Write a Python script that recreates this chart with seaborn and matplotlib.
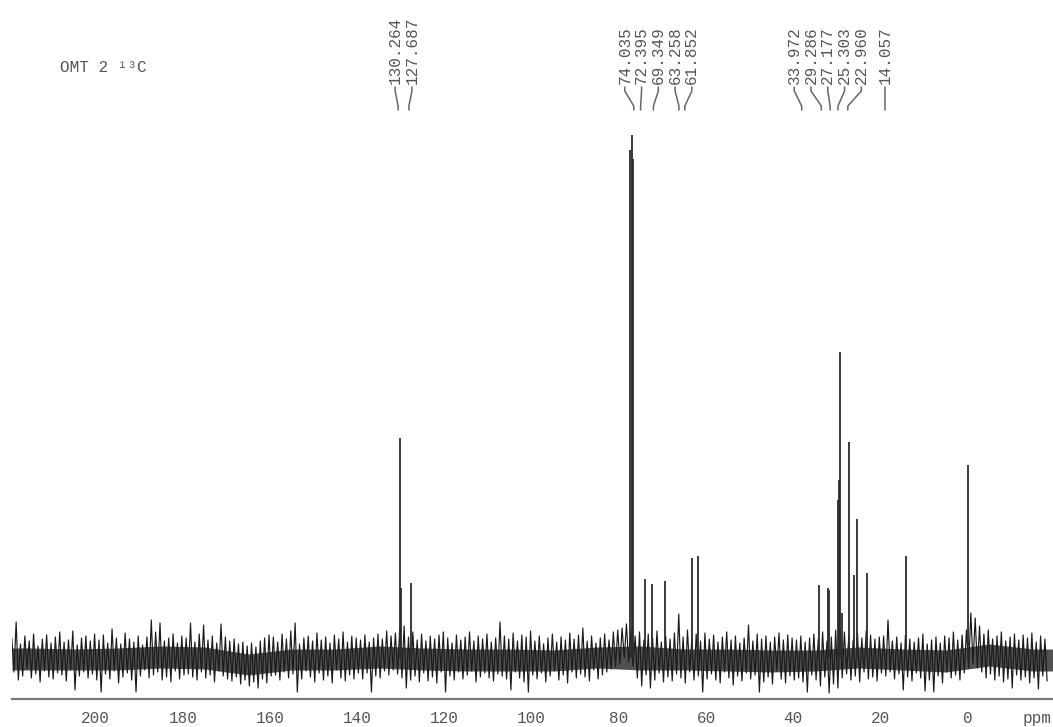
import numpy as np
import pandas as pd
import matplotlib
matplotlib.use("Agg")
import matplotlib.pyplot as plt
from matplotlib.ticker import MultipleLocator
import seaborn as sns

# ---- resolved lines: chemical shift (ppm) and intensity ----
peak_ppm = [130.264, 129.95, 127.687, 77.32, 77.00, 76.68, 74.035, 72.395, 69.349,
            63.258, 61.852, 33.972, 31.95, 31.70, 29.72, 29.52, 29.286, 28.80,
            27.177, 26.00, 25.303, 22.960, 14.057, 0.000]
peak_height = [220, 70, 75, 508, 523, 499, 79, 74, 77,
               100, 102, 73, 70, 68, 158, 178, 306, 45,
               216, 83, 139, 85, 102, 193]

# shifts printed above the spectrum
labelled_ppm = [130.264, 127.687, 74.035, 72.395, 69.349, 63.258, 61.852,
                33.972, 29.286, 27.177, 25.303, 22.960, 14.057]

# ---- baseline noise: upper / lower swing in 1 ppm steps (219 ... -18 ppm) ----
noise_hi = [
    20, 36, 14, 22, 17, 24, 12, 19, 23, 15, 21, 26, 16, 18, 27, 13, 20, 22, 17, 24,
    18, 23, 15, 29, 20, 14, 25, 19, 16, 22, 13, 21, 38, 26, 35, 17, 20, 24, 15, 22,
    20, 35, 16, 24, 33, 18, 22, 15, 34, 21, 17, 19, 14, 16, 12, 15, 11, 17, 20, 23,
    21, 16, 24, 19, 27, 35, 14, 20, 22, 17, 25, 18, 21, 15, 23, 19, 26, 16, 22, 20,
    18, 23, 16, 20, 24, 19, 27, 22, 25, 30, 32, 21, 26, 18, 24, 17, 22, 19, 23, 26,
    20, 15, 23, 18, 21, 26, 17, 22, 19, 24, 16, 20, 36, 22, 19, 25, 17, 23, 21, 27,
    17, 22, 14, 20, 24, 16, 21, 18, 25, 19, 23, 30, 17, 22, 15, 20, 24, 18, 26, 28,
    30, 34, 28, 22, 26, 18, 24, 20, 27, 16, 22, 19, 25, 44, 21, 28, 19, 24, 17, 25,
    19, 23, 16, 21, 26, 18, 22, 15, 20, 33, 17, 24, 19, 22, 16, 21, 25, 18, 23, 20,
    18, 22, 16, 20, 24, 19, 26, 17, 21, 28, 30, 26, 22, 18, 25, 20, 27, 23, 19, 21,
    22, 38, 17, 21, 15, 23, 19, 16, 20, 24, 14, 18, 21, 15, 22, 20, 26, 18, 23, 28,
    45, 40, 32, 24, 28, 19, 22, 26, 17, 21, 24, 18, 23, 20, 25, 16, 22, 19]
noise_lo = [
    -14, -22, -18, -11, -20, -16, -24, -13, -19, -21, -15, -17, -23, -12, -32, -18, -14, -20, -16, -22,
    -34, -16, -21, -13, -25, -19, -15, -22, -34, -18, -12, -20, -17, -14, -22, -19, -24, -13, -21, -17,
    -16, -19, -22, -14, -20, -17, -24, -13, -18, -21, -23, -19, -26, -22, -28, -24, -30, -21, -25, -18,
    -17, -22, -14, -20, -16, -34, -21, -13, -19, -24, -15, -22, -18, -25, -12, -20, -23, -17, -21, -15,
    -21, -15, -34, -18, -20, -13, -17, -12, -16, -20, -30, -22, -18, -24, -15, -23, -19, -25, -14, -34,
    -18, -22, -14, -21, -17, -13, -24, -19, -15, -20, -23, -16, -18, -21, -32, -14, -20, -24, -34, -17,
    -21, -15, -24, -18, -13, -22, -17, -25, -14, -20, -16, -19, -23, -12, -21, -17, -14, -11, -9, -6,
    0, -4, -8, -20, -28, -17, -30, -22, -15, -24, -19, -23, -16, -20, -25, -14, -22, -18, -34, -21,
    -16, -22, -25, -14, -20, -27, -18, -23, -15, -21, -17, -34, -24, -19, -26, -13, -21, -25, -18, -22,
    -20, -24, -34, -17, -22, -28, -19, -35, -26, -30, -20, -16, -22, -18, -24, -14, -21, -19, -23, -15,
    -18, -14, -21, -16, -32, -19, -23, -15, -20, -33, -22, -34, -18, -25, -14, -20, -17, -22, -15, -10,
    -6, -10, -14, -20, -16, -22, -18, -24, -21, -30, -17, -22, -19, -25, -20, -31, -18, -23]

# dense core of the noise band, per 10 ppm (215 ... -15 ppm)
core_hi = [10, 9, 10, 12, 11, 4, 9, 9, 12, 10, 9, 9,
           8, 11, 12, 9, 9, 8, 8, 11, 9, 8, 14, 9]
core_lo = [-12, -12, -12, -10, -11, -17, -12, -12, -10, -12, -13, -13,
           -13, -10, -12, -12, -13, -14, -13, -10, -12, -14, -8, -13]

X_LEFT, X_RIGHT = 219.2, -19.6

# ---- assemble the noise trace ----
bin_c = np.arange(219, -19, -1, dtype=float)
trace_x = np.empty(2 * len(bin_c))
trace_y = np.empty(2 * len(bin_c))
trace_x[0::2] = bin_c + 0.25
trace_x[1::2] = bin_c - 0.25
trace_y[0::2] = noise_hi
trace_y[1::2] = noise_lo
trace = pd.DataFrame({"ppm": trace_x, "intensity": trace_y})

# core band held flat out to both plot edges
core_c = np.concatenate([[X_LEFT], np.arange(215, -16, -10, dtype=float), [X_RIGHT]])
core_top = np.concatenate([[core_hi[0]], core_hi, [core_hi[-1]]])
core_bot = np.concatenate([[core_lo[0]], core_lo, [core_lo[-1]]])

# ---- figure ----
sns.set_theme(style="white")
plt.rcParams["font.family"] = ["Liberation Mono", "DejaVu Sans Mono"]

W, H = 1053, 727
fig = plt.figure(figsize=(W / 100, H / 100), dpi=100)
ax_rect = [12 / W, (H - 699) / H, 1 - 12 / W, 699 / H]
ax = fig.add_axes(ax_rect)

ink = "#1a1a1a"
grey = "#7a7a7a"
text_col = "#555555"

ax.fill_between(core_c, core_bot, core_top, color="#262626", lw=0, alpha=0.8)
sns.lineplot(data=trace, x="ppm", y="intensity", sort=False, estimator=None,
             color=ink, lw=0.85, ax=ax)
ax.vlines(peak_ppm, 0, peak_height, color="#2b2b2b", lw=1.3)

ax.set_xlim(X_LEFT, X_RIGHT)
ax.set_ylim(-41, 658)
ax.set_xlabel("")
ax.set_ylabel("")
ax.set_yticks([])
ax.set_xticks([200, 180, 160, 140, 120, 100, 80, 60, 40, 20, 0])
ax.xaxis.set_minor_locator(MultipleLocator(10))
for s in ("left", "right", "top"):
    ax.spines[s].set_visible(False)
ax.spines["bottom"].set_color(grey)
ax.spines["bottom"].set_linewidth(1.6)
ax.tick_params(axis="x", which="major", direction="out", length=4.5, width=1.3,
               color=grey, pad=4, labelsize=11.5, labelcolor=text_col)
ax.tick_params(axis="x", which="minor", direction="out", length=2.2, width=1.1,
               color=grey)
ax.patch.set_alpha(0)

# ---- shift labels with connectors (annotation strip has its own scale) ----
lab = fig.add_axes(ax_rect)
lab.set_xlim(222.4, -26.0)
lab.set_ylim(0, 1)
lab.axis("off")


def spread(vals, gap):
    groups = [[v] for v in sorted(vals, reverse=True)]
    changed = True
    while changed:
        changed = False
        out = []
        for g in groups:
            if out:
                p = out[-1]
                p_last = np.mean(p) - gap * (len(p) - 1) / 2
                g_first = np.mean(g) + gap * (len(g) - 1) / 2
                if p_last - g_first < gap:
                    out[-1] = p + g
                    changed = True
                    continue
            out.append(g)
        groups = out
    pos = []
    for g in groups:
        c, n = np.mean(g), len(g)
        pos += [c + gap * ((n - 1) / 2 - i) for i in range(n)]
    return pos


lab_sorted = sorted(labelled_ppm, reverse=True)
lab_pos = spread(lab_sorted, 4.0)
y_txt = (699 - 84) / 699
y_top = (699 - 87) / 699
y_knee1 = (699 - 91) / 699
y_knee2 = (699 - 106) / 699
y_bot = (699 - 110) / 699
for v, p in zip(lab_sorted, lab_pos):
    lab.plot([p, p, v, v], [y_top, y_knee1, y_knee2, y_bot], color="#666666",
             lw=1.1, solid_capstyle="round")
    lab.text(p, y_txt, f"{v:.3f}", rotation=90, ha="center", va="bottom",
             fontsize=11.5, color=text_col)

fig.text(60 / W, 1 - 67 / H, "OMT 2 ¹³C", ha="left", va="center",
         fontsize=11.5, color=text_col)
fig.text(1037 / W, 1 - 719 / H, "ppm", ha="center", va="center",
         fontsize=11.5, color=text_col)

fig.savefig("out.png", dpi=100, facecolor="white")
